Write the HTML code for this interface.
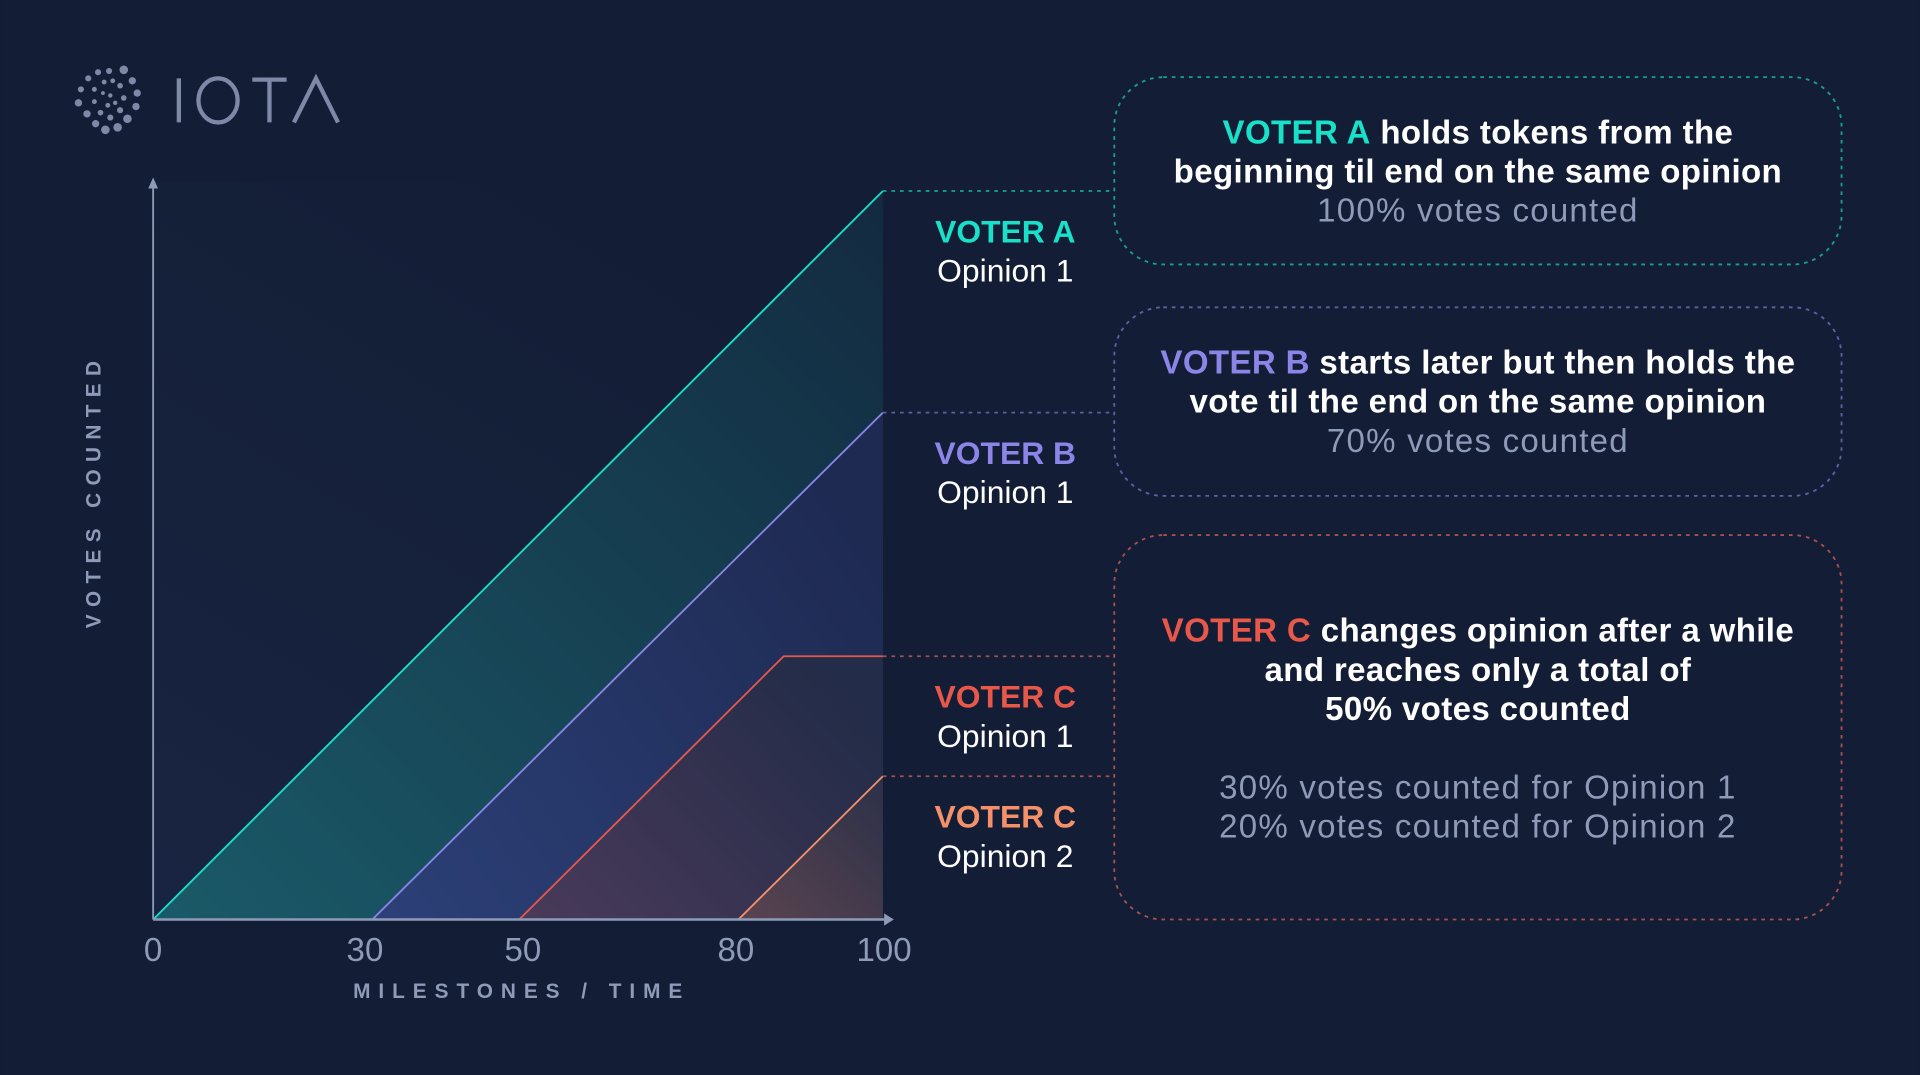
<!DOCTYPE html>
<html><head><meta charset="utf-8"><style>
html,body{margin:0;padding:0;background:#131d35;}
svg{display:block}
text{font-family:"Liberation Sans",sans-serif;}
</style></head><body>
<svg width="1920" height="1075" viewBox="0 0 1568 878" xmlns="http://www.w3.org/2000/svg">
<defs>
<linearGradient id="bg0" x1="0" y1="1" x2="0.6" y2="0"><stop offset="0" stop-color="#1c2a4a"/><stop offset="1" stop-color="#131d35"/></linearGradient>
<linearGradient id="gA" x1="0" y1="1" x2="1" y2="0"><stop offset="0" stop-color="#1a5a68"/><stop offset="1" stop-color="#132a40"/></linearGradient>
<linearGradient id="gB" x1="0" y1="1" x2="1" y2="0.3"><stop offset="0" stop-color="#2c4078"/><stop offset="1" stop-color="#1e2a52"/></linearGradient>
<linearGradient id="gC" x1="0" y1="1" x2="1" y2="0.3"><stop offset="0" stop-color="#4a3a5a"/><stop offset="1" stop-color="#232c48"/></linearGradient>
<linearGradient id="gD" x1="0" y1="1" x2="1" y2="0"><stop offset="0" stop-color="#5a4450"/><stop offset="1" stop-color="#2c3048"/></linearGradient>
</defs>
<rect width="1568" height="878" fill="#131d35"/>
<!-- logo -->
<g fill="#7d89a6">
<circle cx="101" cy="57" r="3.5"/><circle cx="108" cy="66" r="3"/><circle cx="112" cy="76" r="3"/><circle cx="111" cy="87" r="3"/><circle cx="104" cy="97" r="3.5"/><circle cx="96" cy="104" r="3.5"/><circle cx="86" cy="106" r="3.5"/><circle cx="78" cy="101" r="3"/><circle cx="71" cy="93" r="3"/><circle cx="64" cy="84" r="3"/><circle cx="66" cy="73" r="2.5"/><circle cx="72" cy="64" r="2.5"/><circle cx="80" cy="59" r="2.5"/><circle cx="89" cy="58" r="2.5"/>
<circle cx="98" cy="70" r="2.3"/><circle cx="101" cy="80" r="2.3"/><circle cx="98" cy="90" r="2.5"/><circle cx="90" cy="96" r="2.5"/><circle cx="82" cy="92" r="2.3"/><circle cx="77" cy="83" r="2"/><circle cx="77" cy="73" r="2"/><circle cx="85" cy="67" r="2"/><circle cx="92" cy="66" r="2"/>
<circle cx="90" cy="78" r="1.8"/><circle cx="88" cy="86" r="2"/><circle cx="84" cy="76" r="1.6"/><circle cx="94" cy="84" r="1.8"/>
</g>
<g stroke="#7d89a6" stroke-width="3.5" fill="none">
<line x1="146" y1="64" x2="146" y2="100"/>
<ellipse cx="178" cy="82" rx="16" ry="18"/>
<line x1="206" y1="65" x2="234" y2="65"/><line x1="220" y1="65" x2="220" y2="100"/>
<path d="M240 100 L258 64 L276 100"/>
</g>
<!-- fills -->
<polygon points="125,751 125,148 721,148 721,751" fill="url(#bg0)" opacity="0.6"/>
<polygon points="125,751 721,156 721,751" fill="url(#gA)"/>
<polygon points="304,751 721,337 721,751" fill="url(#gB)"/>
<polygon points="424,751 640,536 721,536 721,751" fill="url(#gC)"/>
<polygon points="603,751 721,634 721,751" fill="url(#gD)"/>
<!-- lines -->
<line x1="125" y1="751" x2="721" y2="156" stroke="#19e0c8" stroke-width="1.5"/>
<line x1="304" y1="751" x2="721" y2="337" stroke="#8b85e8" stroke-width="1.5"/>
<polyline points="424,751 640,536 721,536" fill="none" stroke="#e8584a" stroke-width="1.5"/>
<line x1="603" y1="751" x2="721" y2="634" stroke="#f5916a" stroke-width="1.5"/>
<!-- connectors -->
<g stroke-width="1.5" stroke-dasharray="3,4">
<line x1="721" y1="156" x2="908" y2="156" stroke="#1a9e94"/>
<line x1="721" y1="337" x2="908" y2="337" stroke="#5e5fa8"/>
<line x1="721" y1="536" x2="908" y2="536" stroke="#a5524e"/>
<line x1="721" y1="634" x2="908" y2="634" stroke="#a5524e"/>
</g>
<!-- axes -->
<line x1="125" y1="751" x2="125" y2="152" stroke="#8e9bb8" stroke-width="1.5"/>
<polygon points="125,145 121,154 129,154" fill="#8e9bb8"/>
<line x1="125" y1="751" x2="724" y2="751" stroke="#8e9bb8" stroke-width="2"/>
<polygon points="730,751 722,746 722,756" fill="#8e9bb8"/>
<g font-size="27" fill="#8e9bb8" text-anchor="middle">
<text x="125" y="785">0</text><text x="298" y="785">30</text><text x="427" y="785">50</text><text x="601" y="785">80</text><text x="722" y="785">100</text>
</g>
<text x="426" y="815" font-size="17" font-weight="bold" fill="#8e9bb8" text-anchor="middle" letter-spacing="6.5">MILESTONES / TIME</text>
<text transform="translate(82,401) rotate(-90)" font-size="17" font-weight="bold" fill="#8e9bb8" text-anchor="middle" letter-spacing="6">VOTES COUNTED</text>
<!-- labels -->
<g font-size="26" text-anchor="middle">
<text x="821" y="198" fill="#19e0c8" font-weight="bold">VOTER A</text><text x="821" y="230" fill="#fff">Opinion 1</text>
<text x="821" y="379" fill="#8b85e8" font-weight="bold">VOTER B</text><text x="821" y="411" fill="#fff">Opinion 1</text>
<text x="821" y="578" fill="#e8584a" font-weight="bold">VOTER C</text><text x="821" y="610" fill="#fff">Opinion 1</text>
<text x="821" y="676" fill="#f5916a" font-weight="bold">VOTER C</text><text x="821" y="708" fill="#fff">Opinion 2</text>
</g>
<!-- boxes -->
<g fill="none" stroke-width="1.5" stroke-dasharray="3,4">
<rect x="910" y="63" width="594" height="153" rx="40" stroke="#1a9e94"/>
<rect x="910" y="251" width="594" height="154" rx="40" stroke="#5e5fa8"/>
<rect x="910" y="437" width="594" height="314" rx="40" stroke="#a5524e"/>
</g>
<g font-size="27" text-anchor="middle" font-weight="bold" fill="#fff" letter-spacing="0.3">
<text x="1207" y="117"><tspan fill="#19e0c8">VOTER A</tspan> holds tokens from the</text>
<text x="1207" y="149">beginning til end on the same opinion</text>
<text x="1207" y="305"><tspan fill="#8b85e8">VOTER B</tspan> starts later but then holds the</text>
<text x="1207" y="337">vote til the end on the same opinion</text>
<text x="1207" y="524"><tspan fill="#e8584a">VOTER C</tspan> changes opinion after a while</text>
<text x="1207" y="556">and reaches only a total of</text>
<text x="1207" y="588">50% votes counted</text>
</g>
<g font-size="27" text-anchor="middle" fill="#8e9bb8" letter-spacing="1">
<text x="1207" y="181">100% votes counted</text>
<text x="1207" y="369">70% votes counted</text>
<text x="1207" y="652">30% votes counted for Opinion 1</text>
<text x="1207" y="684">20% votes counted for Opinion 2</text>
</g>
</svg>
</body></html>
